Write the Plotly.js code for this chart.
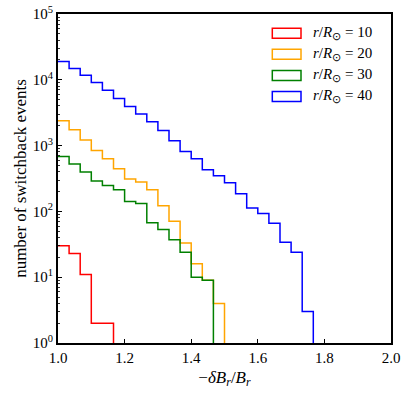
<!DOCTYPE html>
<html>
<head>
<meta charset="utf-8">
<script src="https://cdn.plot.ly/plotly-3.0.1.min.js"></script>
<style>
  body { margin: 0; background: white; }
  #graph { width: 409px; height: 399px; }
</style>
</head>
<body>
<div id="graph"></div>
<script>
// histogram bins: start and width of each bin
var binStart = 1.0;
var binWidth = 1 / 30;

// counts per bin
var labels = ['10', '20', '30', '40'];
var colors = ['#ff0000', '#ffa500', '#008000', '#0000ff'];
var red = [30, 23, 11, 2, 2];
var orange = [2380, 1740, 1220, 843, 631, 445, 310, 279, 213, 122, 71, 33, 16, 9, 4];
var green = [684, 524, 396, 289, 248, 213, 142, 132, 67, 53, 37, 24, 10, 9];
var blue = [18900, 14800, 11700, 9070, 6960, 5190, 3920, 3010, 2300, 1690, 1180, 814, 631, 430, 348, 273, 186, 113, 93, 66, 34, 24, 3];
var series = [red, orange, green, blue];

// tick labels
var xTicks = [1.0, 1.2, 1.4, 1.6, 1.8, 2.0];
var yTicks = [1, 10, 100, 1000, 10000, 100000];
var yTickText = ['10<sup>0</sup>', '10<sup>1</sup>', '10<sup>2</sup>', '10<sup>3</sup>', '10<sup>4</sup>', '10<sup>5</sup>'];

var serif = 'Liberation Serif, Times New Roman, serif';

// margins in px (plot area 58..391 x 14..343.5)
var W = 409, H = 399;
var mL = 58, mR = 18, mT = 14, mB = 55.5;
var pw = W - mL - mR, ph = H - mT - mB;
function px(x) { return (x - mL) / pw; }
function py(y) { return (H - mB - y) / ph; }

// turn counts into a step outline
function stepTrace(counts, color, name) {
  var xs = [], ys = [];
  for (var i = 0; i < counts.length; i++) {
    xs.push(binStart + i * binWidth);
    ys.push(counts[i]);
  }
  var end = binStart + counts.length * binWidth;
  xs.push(end); ys.push(counts[counts.length - 1]);
  // drop down below the axis at the right edge
  xs.push(end); ys.push(0.1);
  return {
    x: xs, y: ys, type: 'scatter', mode: 'lines',
    line: { shape: 'hv', color: color, width: 1.5 },
    name: name, showlegend: false, hoverinfo: 'skip'
  };
}

var data = [];
for (var k = 0; k < series.length; k++) {
  data.push(stepTrace(series[k], colors[k], 'r/R = ' + labels[k]));
}

// minor ticks on the log axis: 2..9 of every decade
var minorVals = [];
for (var d = 0; d < 5; d++) {
  for (var m = 2; m < 10; m++) minorVals.push(m * Math.pow(10, d));
}

// hand made legend (matplotlib style patches)
var shapes = [], annotations = [];
for (var j = 0; j < labels.length; j++) {
  var rowTop = 28.3 + j * 21.1;
  shapes.push({
    type: 'rect', xref: 'paper', yref: 'paper',
    x0: px(272.3), x1: px(301), y0: py(rowTop), y1: py(rowTop + 10),
    line: { color: colors[j], width: 1.5 }, fillcolor: 'rgba(0,0,0,0)'
  });
  annotations.push({
    xref: 'paper', yref: 'paper', x: px(311), y: py(rowTop + 5),
    xanchor: 'left', yanchor: 'middle', showarrow: false,
    text: '<i>r</i>/<i>R</i><sub>⊙</sub> = ' + labels[j],
    font: { family: serif, size: 15, color: 'black' }
  });
}

var layout = {
  width: W, height: H,
  margin: { l: mL, r: mR, t: mT, b: mB, pad: 0 },
  paper_bgcolor: 'white', plot_bgcolor: 'white',
  showlegend: false,
  font: { family: serif, color: 'black', size: 15 },
  xaxis: {
    range: [1, 2], tickmode: 'array', tickvals: xTicks,
    tickformat: '.1f',
    ticks: 'inside', ticklen: 4, tickwidth: 1, tickcolor: 'black',
    showline: true, linewidth: 2, linecolor: 'black', mirror: true,
    showgrid: false, zeroline: false,
    tickfont: { family: serif, size: 15 },
    title: { text: '−<i>δB<sub>r</sub></i>/<i>B<sub>r</sub></i>', font: { family: serif, size: 17 }, standoff: 6 }
  },
  yaxis: {
    type: 'log', range: [0, 5],
    tickmode: 'array', tickvals: yTicks, ticktext: yTickText,
    ticks: 'inside', ticklen: 4, tickwidth: 1, tickcolor: 'black',
    minor: { tickmode: 'array', tickvals: minorVals, ticks: 'inside', ticklen: 2, tickwidth: 0.8, tickcolor: 'black', showgrid: false },
    showline: true, linewidth: 2, linecolor: 'black', mirror: true,
    showgrid: false, zeroline: false,
    tickfont: { family: serif, size: 15 },
    title: { text: 'number of switchback events', font: { family: serif, size: 17 }, standoff: 2 }
  },
  shapes: shapes,
  annotations: annotations
};

Plotly.newPlot('graph', data, layout, { displayModeBar: false, staticPlot: true });
</script>
</body>
</html>
